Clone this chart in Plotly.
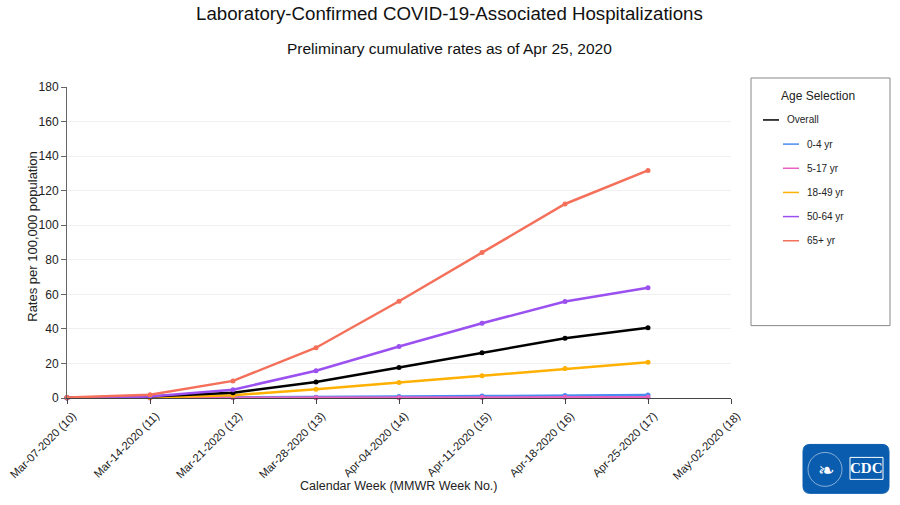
import plotly.graph_objects as go

weeks = ["Mar-07-2020 (10)", "Mar-14-2020 (11)", "Mar-21-2020 (12)", "Mar-28-2020 (13)",
         "Apr-04-2020 (14)", "Apr-11-2020 (15)", "Apr-18-2020 (16)", "Apr-25-2020 (17)",
         "May-02-2020 (18)"]
data_weeks = weeks[:8]

overall = [0.1, 0.8, 3.0, 9.3, 17.6, 26.2, 34.6, 40.6]
age_0_4 = [0.0, 0.1, 0.3, 0.5, 0.8, 1.1, 1.5, 1.8]
age_5_17 = [0.0, 0.0, 0.1, 0.1, 0.2, 0.3, 0.4, 0.5]
age_18_49 = [0.1, 0.3, 1.6, 5.0, 8.9, 12.9, 17.1, 20.7]
age_50_64 = [0.1, 0.8, 4.8, 15.8, 29.8, 43.3, 55.8, 63.8]
age_65 = [0.3, 1.9, 9.9, 29.1, 56.0, 84.2, 112.3, 131.7]

names = ["Overall", "0-4 yr", "5-17 yr", "18-49 yr", "50-64 yr", "65+ yr"]
series = [overall, age_0_4, age_5_17, age_18_49, age_50_64, age_65]
colors = ["#000000", "#4a8cf0", "#e860c0", "#ffb000", "#9b50f0", "#f4705a"]

FONT = "Liberation Sans, Arial, sans-serif"
fig = go.Figure()

draw_order = [1, 2, 3, 0, 4, 5]
for i in draw_order:
    fig.add_trace(go.Scatter(
        x=data_weeks, y=series[i], name=names[i], mode="lines+markers",
        line=dict(color=colors[i], width=2.5),
        marker=dict(color=colors[i], size=5),
        showlegend=False, cliponaxis=False,
    ))

FW, FH = 900, 505
L, R, T, B = 67, 731, 87, 398.5
W, H = R - L, B - T

def px(x):
    return (x - L) / W

def py(y):
    return (B - y) / H

shapes = []
annotations = []

def note(x, y, text, size, color="#222", family=FONT, xanchor="center", **kw):
    annotations.append(dict(xref="paper", yref="paper", x=px(x), y=py(y), text=text,
                            showarrow=False, xanchor=xanchor, yanchor="middle",
                            font=dict(family=family, size=size, color=color), **kw))

# legend box
shapes.append(dict(type="rect", xref="paper", yref="paper",
                   x0=px(751), x1=px(890), y0=py(78), y1=py(326),
                   line=dict(color="#888888", width=1), fillcolor="rgba(0,0,0,0)"))
note(818, 96, "Age Selection", 12)
for k, nm in enumerate(names):
    yy = 120 + k * 24.2
    if k == 0:
        x0, x1, xt = 763, 779, 785
    else:
        x0, x1, xt = 783, 799, 805
    shapes.append(dict(type="line", xref="paper", yref="paper",
                       x0=px(x0), x1=px(x1), y0=py(yy), y1=py(yy),
                       line=dict(color=colors[k], width=1.5)))
    note(xt, yy, nm, 10, xanchor="left")

# CDC logo approximation
shapes.append(dict(type="path", xref="paper", yref="paper",
                   path=("M {a},{b} L {c},{b} Q {d},{b} {d},{e} L {d},{f} Q {d},{g} {c},{g} "
                         "L {a},{g} Q {h},{g} {h},{f} L {h},{e} Q {h},{b} {a},{b} Z").format(
                       a=px(810), c=px(882), d=px(889), b=py(445), e=py(452),
                       f=py(487), g=py(494), h=px(803)),
                   line=dict(color="#0a5cae", width=1), fillcolor="#0a5cae"))
shapes.append(dict(type="circle", xref="paper", yref="paper",
                   x0=px(808), x1=px(842), y0=py(453), y1=py(487),
                   line=dict(color="rgba(255,255,255,0.5)", width=1)))
note(826, 471, "&#10087;", 20, color="white", family="DejaVu Sans")
shapes.append(dict(type="rect", xref="paper", yref="paper",
                   x0=px(850), x1=px(883), y0=py(458), y1=py(480),
                   line=dict(color="white", width=1), fillcolor="rgba(0,0,0,0)"))
note(866.5, 469, "<b>CDC</b>", 15, color="white", family="Liberation Serif")

# titles
note(450, 13, "Laboratory-Confirmed COVID-19-Associated Hospitalizations", 18.7, color="#111")
note(450, 48, "Preliminary cumulative rates as of Apr 25, 2020", 15.5, color="#111")
note(399, 487, "Calendar Week (MMWR Week No.)", 12.5)
note(33, 237, "Rates per 100,000 population", 13, textangle=-90)

fig.update_layout(
    width=FW, height=FH,
    margin=dict(l=L, r=FW - R, t=T, b=FH - B),
    paper_bgcolor="white", plot_bgcolor="white",
    font=dict(family=FONT, size=12, color="#333"),
    shapes=shapes, annotations=annotations,
    xaxis=dict(type="category", categoryorder="array", categoryarray=weeks,
               tickvals=weeks, range=[0, 8], tickangle=-45, automargin=False,
               ticklabelstandoff=1, ticklabelshift=6,
               showgrid=False, showline=True, linecolor="#444", linewidth=1,
               ticks="outside", ticklen=5, tickcolor="#444",
               tickfont=dict(family=FONT, size=11.3, color="#222")),
    yaxis=dict(range=[0, 180], tickvals=list(range(0, 181, 20)), automargin=False,
               showgrid=True, gridcolor="#f0f0f0", zeroline=False,
               showline=True, linecolor="#666", linewidth=1,
               ticks="outside", ticklen=5, tickcolor="#666",
               tickfont=dict(family=FONT, size=12, color="#222")),
)

fig.write_html("out.html", config={"displayModeBar": False},
               post_script="document.body.style.margin='0px';document.body.style.overflow='hidden';")
